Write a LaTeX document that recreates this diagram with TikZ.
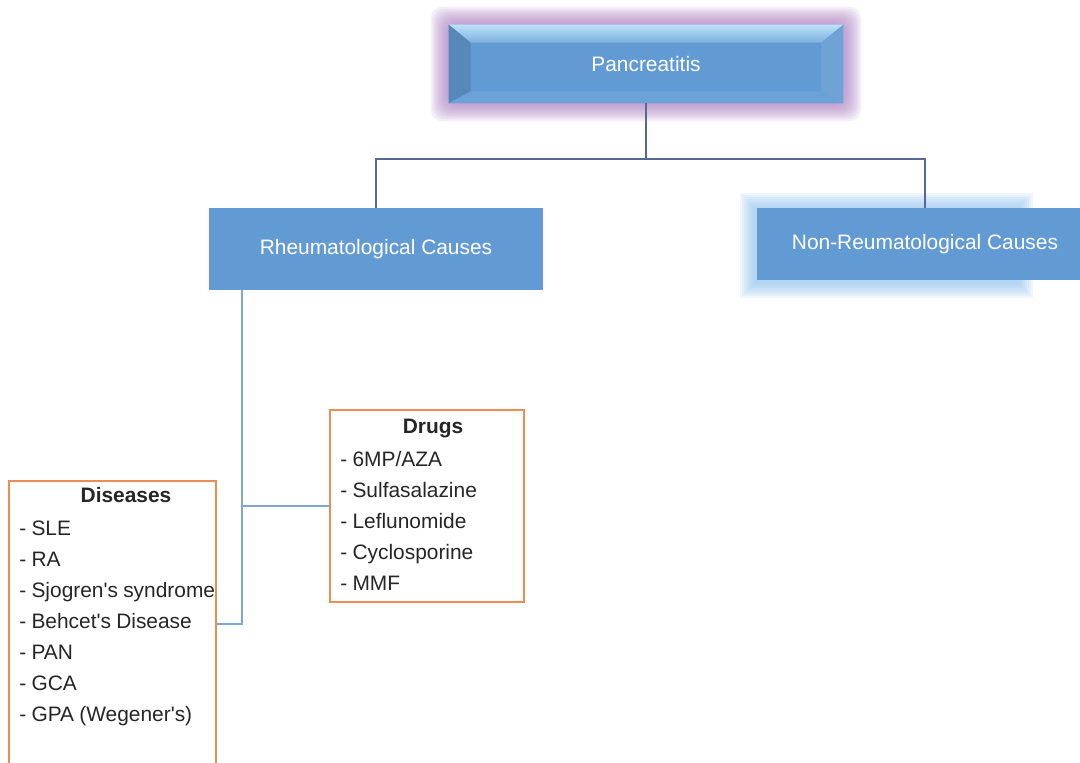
\documentclass[tikz,border=0pt]{standalone}
\usepackage{fontspec}
\setsansfont{Liberation Sans}
\usepackage{xcolor}
\usetikzlibrary{positioning, backgrounds}

\definecolor{boxblue}{RGB}{98,155,211}
\definecolor{bevellight}{RGB}{186,226,249}
\definecolor{linkdark}{RGB}{86,104,150}
\definecolor{linklight}{RGB}{128,165,216}
\definecolor{listorange}{RGB}{234,142,84}
\definecolor{glowpurple}{RGB}{168,122,190}
\definecolor{glowblue}{RGB}{150,196,236}

\newcommand{\tightspaces}{\spaceskip=0.25em\relax}

\begin{document}
\begin{tikzpicture}[
        % one unit = one pixel of the layout, y grows downwards
        x=0.02cm, y=-0.02cm,
        % blue cause boxes
        block/.style={
            rectangle,
            fill=boxblue,
            text=white,
            inner sep=0pt,
            font=\sffamily\fontsize{11.9}{14}\selectfont
        },
        % orange list boxes
        listbox/.style={
            rectangle,
            draw=listorange,
            line width=1.2pt,
            fill=white,
            inner sep=0pt
        },
        list_title/.style={
            anchor=base,
            inner sep=0pt,
            text=black!85,
            font=\sffamily\bfseries\fontsize{11.9}{14}\selectfont
        },
        list_text/.style={
            anchor=base west,
            inner sep=0pt,
            align=left,
            text width=4.6cm,
            text=black!85,
            font=\sffamily\fontsize{11.9}{17.6}\selectfont
        },
        % connectors
        toplink/.style={draw=linkdark, line width=1.1pt},
        sublink/.style={draw=linklight, line width=1.3pt}
    ]
    \useasboundingbox (0,0) rectangle (1080,763);

    % 1. root and the two cause boxes
    \node[block, minimum width=7.88cm, minimum height=1.56cm, fill=none] (pan) at (646,64) {Pancreatitis};
    \node[block, minimum width=6.68cm, minimum height=1.64cm] (rheum) at (376,249) {Rheumatological Causes};
    \node[block, minimum width=6.72cm, minimum height=1.44cm] (nonr) at (925,244) {Non-Reumatological Causes};

    % 2. list boxes
    \node[listbox, minimum width=3.88cm, minimum height=3.84cm] (drugs) at (427,506) {};
    \node[list_title] (drugs_title) at (433,434) {Drugs};
    \node[list_text] (drugs_list) at (340,467) {\tightspaces- 6MP/AZA\\- Sulfasalazine\\- Leflunomide\\- Cyclosporine\\- MMF};

    \node[listbox, minimum width=4.14cm, minimum height=5.72cm] (diseases) at (112.5,624) {};
    \node[list_title] (diseases_title) at (126,503) {Diseases};
    \node[list_text] (diseases_list) at (19,536) {\tightspaces- SLE\\- RA\\- Sjogren\textquotesingle s syndrome\\- Behcet\textquotesingle s Disease\\- PAN\\- GCA\\- GPA (Wegener\textquotesingle s)};

    % 3. glow, bevel and shadow behind the boxes
    \begin{scope}[on background layer]
        \foreach \g in {1,...,9}
            \fill[glowpurple, opacity=0.12, rounded corners=7pt]
                ([shift={(-2*\g,-2*\g)}]pan.north west) rectangle ([shift={(2*\g,2*\g)}]pan.south east);
        \fill[boxblue] (pan.north west) rectangle (pan.south east);
        \shade[top color=bevellight, bottom color=boxblue!70!bevellight]
            (pan.north west) -- (pan.north east) -- ([shift={(-22,18)}]pan.north east)
            -- ([shift={(22,18)}]pan.north west) -- cycle;
        \fill[boxblue!88!black]
            (pan.north west) -- ([shift={(22,18)}]pan.north west)
            -- ([shift={(22,-12)}]pan.south west) -- (pan.south west) -- cycle;
        \fill[boxblue!92!white]
            (pan.north east) -- ([shift={(-22,18)}]pan.north east)
            -- ([shift={(-22,-12)}]pan.south east) -- (pan.south east) -- cycle;
        \fill[boxblue!94!white]
            (pan.south west) -- ([shift={(22,-12)}]pan.south west)
            -- ([shift={(-22,-12)}]pan.south east) -- (pan.south east) -- cycle;

        \foreach \g in {0,...,7}
            \fill[glowblue, opacity=0.14]
                ([shift={(-17+2*\g,-15+2*\g)}]nonr.north west) rectangle ([shift={(276-2*\g,18-2*\g)}]nonr.south west);
    \end{scope}

    % 4. connectors
    \draw[toplink] (pan.south) -- ++(0,56) -| (rheum.north);
    \draw[toplink] (pan.south) -- ++(0,56) -| (nonr.north);

    \coordinate (trunk) at ([shift={(33,0)}]rheum.south west);
    \draw[sublink] (diseases.east) -| (trunk);
    \draw[sublink] (drugs.west) -- (drugs.west -| trunk);

\end{tikzpicture}
\end{document}
